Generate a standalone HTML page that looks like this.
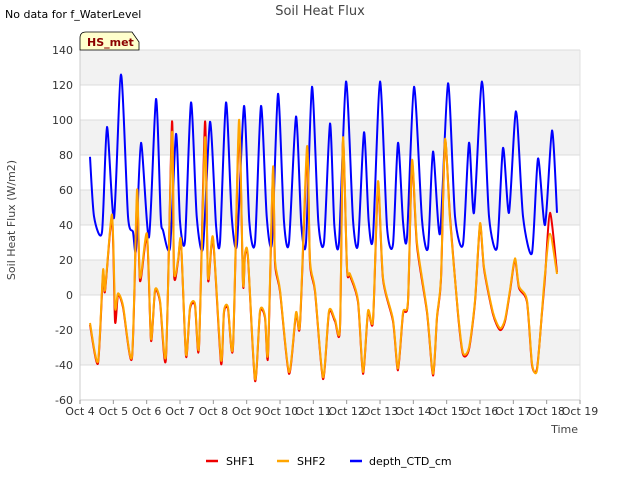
<!DOCTYPE html>
<html><head><meta charset="utf-8"><style>
body{margin:0;background:#fff;font-family:"Liberation Sans","DejaVu Sans",sans-serif;}
svg text{font-family:"DejaVu Sans","Liberation Sans",sans-serif;}
</style></head><body>
<svg id="chart" width="640" height="480">
<rect width="640" height="480" fill="#fff"/>
<text x="5" y="18" font-size="11" fill="#000">No data for f_WaterLevel</text>
<text x="320" y="15" font-size="13" fill="#444" text-anchor="middle">Soil Heat Flux</text>
<g id="bands"></g><g id="grid"></g><g id="axes"></g><g id="series"></g>
<path d="M80,50 L80,38 Q80,32 86,32 L132,32 L139,42 L139,50 Z" fill="#ffffcc" stroke="#000" stroke-width="0.8"/>
<text x="87" y="46" font-size="11" font-weight="bold" fill="#8b0000">HS_met</text>
<text x="20" y="225" font-size="11" fill="#444" text-anchor="middle" transform="rotate(-90 15 225)">Soil Heat Flux (W/m2)</text>
<text x="578" y="433" font-size="11" fill="#444" text-anchor="end">Time</text>
<g>
<line x1="206" y1="461" x2="218" y2="461" stroke="#e00" stroke-width="2.5"/>
<text x="226" y="465" font-size="11" fill="#000">SHF1</text>
<line x1="277" y1="461" x2="289" y2="461" stroke="#ffa500" stroke-width="2.5"/>
<text x="297" y="465" font-size="11" fill="#000">SHF2</text>
<line x1="350" y1="461" x2="362" y2="461" stroke="#00f" stroke-width="2.5"/>
<text x="369" y="465" font-size="11" fill="#000">depth_CTD_cm</text>
</g>
</svg>
<script>
const yTicks=[-60,-40,-20,0,20,40,60,80,100,120,140];
const xTickLabels=["Oct 4","Oct 5","Oct 6","Oct 7","Oct 8","Oct 9","Oct 10","Oct 11","Oct 12","Oct 13","Oct 14","Oct 15","Oct 16","Oct 17","Oct 18","Oct 19"];
const xTickDays=[4,5,6,7,8,9,10,11,12,13,14,15,16,17,18,19];
const depthT=[4.30,4.42,4.66,4.81,5.02,5.23,5.44,5.59,5.68,5.83,6.07,6.28,6.42,6.49,6.70,6.88,7.00,7.15,7.33,7.50,7.69,7.90,8.08,8.20,8.38,8.55,8.71,8.92,9.08,9.25,9.43,9.60,9.76,9.94,10.12,10.27,10.48,10.64,10.78,10.96,11.15,11.32,11.50,11.63,11.77,11.98,12.19,12.34,12.52,12.66,12.79,13.00,13.21,13.39,13.54,13.69,13.81,14.02,14.26,14.44,14.59,14.80,15.04,15.25,15.49,15.67,15.82,16.06,16.27,16.51,16.69,16.87,17.08,17.29,17.56,17.74,17.95,18.16,18.31];
const depthV=[79,45,36,96,44,126,45,36,26,87,33,112,45,37,27,92,42,31,110,45,27,99,40,30,110,45,29,108,42,30,108,45,30,115,42,30,102,40,30,119,42,30,98,40,30,122,43,29,93,42,33,122,39,29,87,42,33,119,43,27,82,35,121,45,29,87,47,122,45,27,84,47,105,45,24,78,40,94,47];
const shfT=[4.30,4.54,4.69,4.75,4.96,5.05,5.14,5.29,5.56,5.71,5.80,6.01,6.13,6.25,6.40,6.58,6.76,6.82,6.94,7.03,7.18,7.30,7.45,7.57,7.75,7.84,7.99,8.23,8.32,8.44,8.59,8.77,8.89,8.95,9.04,9.25,9.40,9.55,9.64,9.79,9.85,10.00,10.27,10.48,10.60,10.81,10.90,11.05,11.29,11.47,11.65,11.80,11.89,12.01,12.10,12.34,12.49,12.64,12.79,12.94,13.09,13.39,13.54,13.69,13.84,13.96,14.11,14.41,14.59,14.71,14.83,14.95,15.10,15.34,15.49,15.67,15.85,16.00,16.12,16.39,16.60,16.75,16.90,17.05,17.17,17.41,17.56,17.71,17.86,17.95,18.10,18.31];
const shf2V=[-16,-38,14,3,46,-7,1,-6,-35,60,10,35,-25,3,-3,-34,93,14,20,31,-34,-7,-5,-29,90,10,33,-37,-9,-7,-29,100,7,24,22,-48,-9,-12,-33,73,20,3,-44,-10,-16,85,20,3,-47,-9,-14,-18,90,16,12,-3,-44,-9,-14,65,10,-14,-42,-10,-3,77,30,-9,-45,-12,10,89,43,-10,-33,-30,-3,41,16,-10,-19,-14,3,21,5,-3,-39,-43,-9,12,35,12,5];
const shf1V=[-17,-39,12,2,44,-15,0,-7,-36,55,8,33,-26,2,-4,-36,99,12,19,30,-35,-8,-6,-30,99,9,32,-39,-10,-8,-30,95,6,23,21,-49,-10,-13,-35,70,18,2,-45,-11,-17,80,18,2,-48,-10,-15,-19,88,15,11,-4,-45,-10,-15,62,9,-15,-43,-11,-4,75,28,-10,-46,-13,9,88,45,-11,-34,-31,-4,40,15,-11,-20,-15,2,20,4,-4,-40,-42,-10,10,47,13,4];

const NS="http://www.w3.org/2000/svg";
const L=80,R=580,T=50,B=400;
function xs(d){return L+(d-4)/15*(R-L);}
function ys(v){return B-(v+60)/200*(B-T);}
function mk(tag,attrs,parent){const e=document.createElementNS(NS,tag);for(const k in attrs)e.setAttribute(k,attrs[k]);document.getElementById(parent).appendChild(e);return e;}
for(let i=0;i<yTicks.length-1;i++){
  if(i%2===1){
    const b=mk('rect',{x:L,y:ys(yTicks[i+1]),width:R-L,height:ys(yTicks[i])-ys(yTicks[i+1]),fill:'#f2f2f2'},'bands');
    
    
  }
}
yTicks.forEach(v=>{
  const g=mk('line',{x1:L,x2:R,y1:ys(v),y2:ys(v),stroke:'#dcdcdc','stroke-width':1},'grid');
  
  
  const t=mk('text',{x:L-7,y:ys(v)+4,'font-size':11,fill:'#333','text-anchor':'end'},'axes');
  t.textContent=v;
  
  
});
const ax=mk('line',{x1:L,x2:L,y1:T,y2:B,stroke:'#ccc'},'axes');


const ax2=mk('line',{x1:R,x2:R,y1:T,y2:B,stroke:'#e0e0e0'},'axes');


const ax3=mk('line',{x1:L,x2:R,y1:B,y2:B,stroke:'#ccc'},'axes');


xTickDays.forEach((d,i)=>{
  const tk=mk('line',{x1:xs(d),x2:xs(d),y1:B,y2:B+4,stroke:'#999'},'axes');
  
  
  const t=mk('text',{x:xs(d),y:B+15,'font-size':11,fill:'#333','text-anchor':'middle'},'axes');
  t.textContent=xTickLabels[i];
  
  
});
function line(tArr,vArr,color,name){
  const P=tArr.map((t,i)=>[xs(t),ys(vArr[i])]);
  const k=1/8;
  let d='M'+P[0][0].toFixed(1)+','+P[0][1].toFixed(1);
  for(let i=0;i<P.length-1;i++){
    const p0=P[Math.max(0,i-1)],p1=P[i],p2=P[i+1],p3=P[Math.min(P.length-1,i+2)];
    const c1=[p1[0]+(p2[0]-p0[0])*k,p1[1]+(p2[1]-p0[1])*k];
    const c2=[p2[0]-(p3[0]-p1[0])*k,p2[1]-(p3[1]-p1[1])*k];
    d+=' C'+c1[0].toFixed(1)+','+c1[1].toFixed(1)+' '+c2[0].toFixed(1)+','+c2[1].toFixed(1)+' '+p2[0].toFixed(1)+','+p2[1].toFixed(1);
  }
  const p=mk('path',{d:d,fill:'none',stroke:color,'stroke-width':2,'stroke-linejoin':'round'},'series');
  
  
}
line(depthT,depthV,'#0000ff','depth-ctd-line');
line(shfT,shf1V,'#ee0000','shf1-line');
line(shfT,shf2V,'#ffa500','shf2-line');
</script>
</body></html>
